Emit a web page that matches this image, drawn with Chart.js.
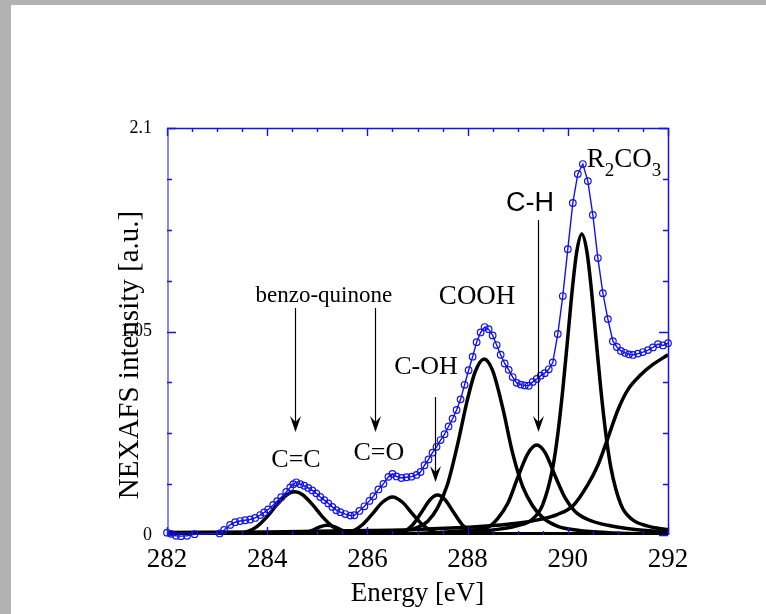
<!DOCTYPE html>
<html>
<head>
<meta charset="utf-8">
<title>NEXAFS C K-edge</title>
<script src="https://cdn.jsdelivr.net/npm/chart.js@4.4.0/dist/chart.umd.min.js"></script>
<style>
  html, body { margin: 0; padding: 0; background: #b2b2b2; overflow: hidden; }
  #panel { position: absolute; left: 11px; top: 5px; width: 755px; height: 609px; background: #fff; }
  canvas { display: block; }
</style>
</head>
<body>
<div id="panel"><canvas id="nexafs" width="755" height="609" style="width:755px;height:609px"></canvas></div>
<script>
// ---- measured spectrum (blue circles) ----
const energy = [282.00, 282.08, 282.18, 282.28, 282.40, 282.55, 283.05, 283.14, 283.26, 283.36,
  283.46, 283.56, 283.66, 283.76, 283.86, 283.94, 284.02, 284.12, 284.20, 284.28,
  284.38, 284.46, 284.52, 284.58, 284.66, 284.74, 284.82, 284.90, 284.98, 285.06,
  285.14, 285.22, 285.30, 285.38, 285.46, 285.56, 285.66, 285.74, 285.84, 285.94,
  286.04, 286.12, 286.22, 286.32, 286.42, 286.50, 286.58, 286.68, 286.78, 286.88,
  286.98, 287.06, 287.14, 287.22, 287.30, 287.38, 287.46, 287.54, 287.62, 287.70,
  287.78, 287.86, 287.94, 288.02, 288.10, 288.18, 288.26, 288.34, 288.42, 288.50,
  288.58, 288.66, 288.74, 288.82, 288.90, 288.98, 289.06, 289.14, 289.22, 289.30,
  289.38, 289.46, 289.54, 289.62, 289.70, 289.80, 289.90, 290.00, 290.10, 290.20,
  290.30, 290.40, 290.50, 290.60, 290.70, 290.80, 290.90, 290.98, 291.06, 291.14,
  291.22, 291.30, 291.40, 291.50, 291.60, 291.70, 291.80, 291.90, 292.00];
const intensity = [0.012, 0.006, -0.004, -0.006, -0.004, 0.004, 0.008, 0.026, 0.052, 0.066,
  0.072, 0.076, 0.080, 0.088, 0.103, 0.116, 0.132, 0.155, 0.175, 0.195,
  0.222, 0.245, 0.262, 0.272, 0.262, 0.254, 0.243, 0.230, 0.215, 0.196,
  0.180, 0.163, 0.145, 0.128, 0.118, 0.108, 0.100, 0.102, 0.124, 0.148,
  0.176, 0.200, 0.235, 0.264, 0.300, 0.315, 0.302, 0.294, 0.298, 0.301,
  0.310, 0.325, 0.360, 0.390, 0.425, 0.455, 0.490, 0.520, 0.560, 0.600,
  0.645, 0.700, 0.775, 0.850, 0.920, 0.995, 1.045, 1.073, 1.062, 1.030,
  0.980, 0.930, 0.885, 0.852, 0.815, 0.785, 0.776, 0.772, 0.770, 0.790,
  0.805, 0.822, 0.835, 0.855, 0.890, 1.037, 1.233, 1.475, 1.713, 1.863,
  1.914, 1.826, 1.651, 1.429, 1.248, 1.114, 1.000, 0.970, 0.950, 0.940,
  0.932, 0.929, 0.936, 0.944, 0.954, 0.968, 0.985, 0.978, 0.990];

// ---- fitted components (black) ----
const ccE = [283.2, 283.6, 283.8, 284.0, 284.2, 284.4, 284.55, 284.7, 284.9, 285.1, 285.3, 285.5, 285.9];
const ccV = [0.002, 0.017, 0.045, 0.095, 0.158, 0.209, 0.223, 0.209, 0.158, 0.095, 0.045, 0.017, 0.002];

const smallE = [284.5, 284.7, 284.9, 285.05, 285.2, 285.35, 285.5, 285.7, 285.9];
const smallV = [0.001, 0.007, 0.024, 0.042, 0.050, 0.042, 0.024, 0.007, 0.001];

const coE = [285.3, 285.5, 285.7, 285.9, 286.1, 286.3, 286.5, 286.7, 286.9, 287.1, 287.3, 287.5, 287.7];
const coV = [0.001, 0.005, 0.019, 0.053, 0.109, 0.169, 0.196, 0.169, 0.109, 0.053, 0.019, 0.005, 0.001];

const cohE = [286.5, 286.7, 286.9, 287.1, 287.25, 287.4, 287.55, 287.7, 287.9, 288.1, 288.3];
const cohV = [0.002, 0.014, 0.051, 0.125, 0.182, 0.206, 0.182, 0.125, 0.051, 0.014, 0.002];

const coohE = [285.5, 286.3, 286.7, 287.0, 287.2, 287.4, 287.6, 287.8, 288.0, 288.15, 288.33,
  288.5, 288.7, 288.9, 289.1, 289.3, 289.5, 289.8, 290.2, 290.8, 291.5, 292.0];
const coohV = [0.004, 0.010, 0.020, 0.040, 0.070, 0.140, 0.262, 0.467, 0.702, 0.841, 0.908,
  0.848, 0.657, 0.421, 0.250, 0.150, 0.090, 0.045, 0.025, 0.012, 0.006, 0.004];

const chE = [287.0, 287.8, 288.4, 288.6, 288.8, 289.0, 289.2, 289.38, 289.55, 289.75, 289.95,
  290.15, 290.4, 290.8, 291.3, 292.0];
const chV = [0.008, 0.020, 0.040, 0.085, 0.162, 0.296, 0.419, 0.464, 0.424, 0.303, 0.190,
  0.120, 0.080, 0.050, 0.030, 0.015];

const r2E = [287.3, 288.3, 289.0, 289.3, 289.5, 289.7, 289.8, 289.9, 290.0, 290.1, 290.18,
  290.28, 290.38, 290.46, 290.56, 290.66, 290.76, 290.86, 291.06, 291.28, 291.58, 292.0];
const r2V = [0.009, 0.021, 0.048, 0.083, 0.157, 0.348, 0.520, 0.750, 1.021, 1.293, 1.464,
  1.553, 1.464, 1.293, 1.021, 0.750, 0.520, 0.348, 0.157, 0.081, 0.047, 0.027];

const stepE = [282.0, 284.0, 286.0, 287.0, 288.0, 288.8, 289.4, 289.8, 290.1, 290.4, 290.6,
  290.8, 291.0, 291.2, 291.45, 291.7, 292.0];
const stepV = [0.013, 0.016, 0.023, 0.029, 0.040, 0.055, 0.078, 0.107, 0.150, 0.260, 0.360,
  0.500, 0.645, 0.750, 0.825, 0.880, 0.930];

const baseE = [282.0, 292.0];
const baseV = [0.006, 0.006];

// ---- axes ----
const xTicks = [282, 284, 286, 288, 290, 292];
const yTicks = [0, 1.05, 2.1];
const yTickLabels = ['0', '1.05', '2.1'];

// ---- annotations (data coordinates) ----
const labels = [
  {text: 'benzo-quinone', x: 285.13, y: 1.233, size: 23},
  {text: 'C=C', x: 284.575, y: 0.387, size: 26},
  {text: 'C=O', x: 286.23, y: 0.423, size: 26},
  {text: 'C-OH', x: 287.17, y: 0.867, size: 26},
  {text: 'COOH', x: 288.19, y: 1.228, size: 27},
  {text: 'C-H', x: 289.245, y: 1.708, size: 27, sans: true}
];
const arrows = [
  {x: 284.555, from: 1.171, to: 0.531},
  {x: 286.15, from: 1.171, to: 0.531},
  {x: 287.35, from: 0.712, to: 0.273},
  {x: 289.40, from: 1.625, to: 0.531}
];

const SERIF = '"Liberation Serif", "DejaVu Serif", serif';
const SANS = '"Liberation Sans", Arial, sans-serif';
const BLUE = '#1212ee';

const pts = (xs, ys) => xs.map((x, i) => ({x: x, y: ys[i]}));

const fit = (xs, ys) => ({
    data: pts(xs, ys),
    borderColor: '#000',
    borderWidth: 3.5,
    pointRadius: 0,
    fill: false,
    cubicInterpolationMode: 'monotone'
});

const framePlugin = {
    id: 'frame',
    afterDatasetsDraw(chart) {
        const {ctx, chartArea: a, scales: {x, y}} = chart;
        ctx.save();
        // ticks, pointing inward on all four sides
        ctx.strokeStyle = BLUE;
        ctx.lineWidth = 1.4;
        ctx.beginPath();
        for (let k = 0; k <= 20; k++) {
            const e = 282 + k * 0.5;
            const px = Math.round(x.getPixelForValue(e)) + 0.5;
            const len = (k % 4 === 0) ? 8 : 4;
            ctx.moveTo(px, a.top); ctx.lineTo(px, a.top + len);
            ctx.moveTo(px, a.bottom); ctx.lineTo(px, a.bottom - len);
        }
        for (let k = 0; k <= 8; k++) {
            const v = k * 0.2625;
            const py = Math.round(y.getPixelForValue(v)) + 0.5;
            const len = (k % 4 === 0) ? 9 : 5;
            ctx.moveTo(a.left, py); ctx.lineTo(a.left + len, py);
            ctx.moveTo(a.right, py); ctx.lineTo(a.right - len, py);
        }
        ctx.stroke();
        // box
        ctx.lineWidth = 1.5;
        ctx.strokeStyle = BLUE;
        ctx.beginPath();
        ctx.moveTo(a.left, a.top + 0.5); ctx.lineTo(a.right + 0.5, a.top + 0.5);
        ctx.lineTo(a.right + 0.5, a.bottom);
        ctx.stroke();
        ctx.strokeStyle = 'rgba(40,40,235,0.55)';
        ctx.lineWidth = 2;
        ctx.beginPath();
        ctx.moveTo(a.left + 1, a.top); ctx.lineTo(a.left + 1, a.bottom);
        ctx.stroke();
        ctx.restore();
    }
};

const notesPlugin = {
    id: 'notes',
    afterDraw(chart) {
        const {ctx, chartArea: a, scales: {x, y}} = chart;
        ctx.save();
        ctx.fillStyle = '#000';
        ctx.textAlign = 'center';
        ctx.textBaseline = 'middle';
        labels.forEach(l => {
            ctx.font = l.size + 'px ' + (l.sans ? SANS : SERIF);
            ctx.fillText(l.text, x.getPixelForValue(l.x), y.getPixelForValue(l.y));
        });

        // R2CO3 with subscripts
        let rx = x.getPixelForValue(290.38);
        const ry = y.getPixelForValue(1.935);
        ctx.textAlign = 'left';
        const parts = [['R', 27, 0], ['2', 19, 11], ['CO', 27, 0], ['3', 19, 11]];
        parts.forEach(p => {
            ctx.font = p[1] + 'px ' + SERIF;
            ctx.fillText(p[0], rx, ry + p[2]);
            rx += ctx.measureText(p[0]).width;
        });

        // arrows
        ctx.strokeStyle = '#000';
        ctx.lineWidth = 1.2;
        arrows.forEach(ar => {
            const px = Math.round(x.getPixelForValue(ar.x)) + 0.5;
            const y0 = y.getPixelForValue(ar.from);
            const y1 = y.getPixelForValue(ar.to);
            ctx.beginPath();
            ctx.moveTo(px, y0); ctx.lineTo(px, y1 - 8);
            ctx.stroke();
            ctx.beginPath();
            ctx.moveTo(px, y1);
            ctx.lineTo(px - 5.5, y1 - 16);
            ctx.lineTo(px, y1 - 10);
            ctx.lineTo(px + 5.5, y1 - 16);
            ctx.closePath();
            ctx.fill();
        });

        // y-axis title, overlapping the middle tick label as in the original
        ctx.translate(119, a.top + 227);
        ctx.rotate(-Math.PI / 2);
        ctx.textAlign = 'center';
        ctx.font = '29px ' + SERIF;
        ctx.fillText('NEXAFS intensity [a.u.]', 0, 0);
        ctx.restore();
    }
};

new Chart(document.getElementById('nexafs'), {
    type: 'line',
    data: {
        datasets: [
            {
                data: pts(energy, intensity),
                borderColor: BLUE,
                borderWidth: 1.4,
                tension: 0,
                pointRadius: 3.3,
                pointBorderWidth: 1.2,
                pointBorderColor: BLUE,
                pointBackgroundColor: 'rgba(255,255,255,0)',
                clip: false
            },
            fit(ccE, ccV),
            fit(smallE, smallV),
            fit(coE, coV),
            fit(cohE, cohV),
            fit(coohE, coohV),
            fit(chE, chV),
            fit(r2E, r2V),
            fit(stepE, stepV),
            fit(baseE, baseV)
        ]
    },
    options: {
        responsive: false,
        animation: false,
        devicePixelRatio: 1,
        layout: {padding: {left: 0, top: 123, right: 98, bottom: 0}},
        plugins: {legend: {display: false}, tooltip: {enabled: false}},
        scales: {
            x: {
                type: 'linear',
                min: 282, max: 292,
                afterFit: s => { s.height = 79; },
                afterBuildTicks: s => { s.ticks = xTicks.map(v => ({value: v})); },
                grid: {display: false, drawTicks: false},
                border: {display: false},
                ticks: {
                    autoSkip: false, maxRotation: 0, padding: 9,
                    color: '#000',
                    font: {family: SERIF, size: 27},
                    callback: v => String(v)
                },
                title: {
                    display: true, text: 'Energy [eV]', color: '#000',
                    font: {family: SERIF, size: 27},
                    padding: {top: 0, bottom: 4}
                }
            },
            y: {
                min: 0, max: 2.1,
                afterFit: s => { s.width = 156; },
                afterBuildTicks: s => { s.ticks = yTicks.map(v => ({value: v})); },
                grid: {display: false, drawTicks: false},
                border: {display: false},
                ticks: {
                    autoSkip: false, padding: 15,
                    color: '#000',
                    font: {family: SERIF, size: 18},
                    callback: (v, i) => yTickLabels[i]
                }
            }
        }
    },
    plugins: [framePlugin, notesPlugin]
});
</script>
</body>
</html>
